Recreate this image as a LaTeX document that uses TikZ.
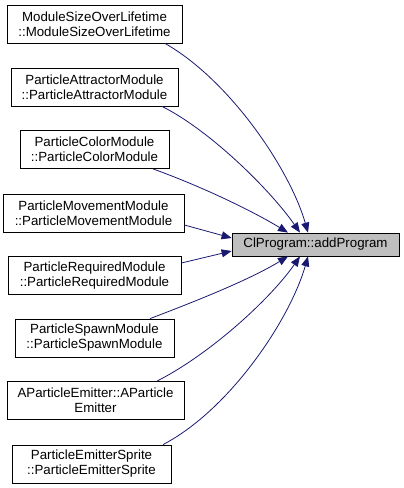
\documentclass[tikz,border=0pt]{standalone}
\usepackage{fontspec}
\setmainfont{Liberation Sans}
\usetikzlibrary{arrows.meta}
\definecolor{edgeblue}{HTML}{191970}
\definecolor{hlgray}{HTML}{BFBFBF}
\begin{document}
\begin{tikzpicture}[x=1pt,y=1pt,
  box/.style={draw=black,line width=0.8pt,fill=white,inner sep=0pt,align=center,
    minimum height=38pt,font=\fontsize{13.3}{15}\selectfont},
  hl/.style={box,fill=hlgray,minimum height=23pt},
  edge/.style={draw=edgeblue,line width=0.8pt,-{Triangle[length=10pt,width=8pt]}}]
\useasboundingbox (0,0) rectangle (404,-488);
\node[box,minimum width=175pt] (n1) at (94.5,-24) {ModuleSizeOverLifetime\\::ModuleSizeOverLifetime};
\node[box,minimum width=167pt] (n2) at (94.5,-87) {ParticleAttractorModule\\::ParticleAttractorModule};
\node[box,minimum width=149pt] (n3) at (94.5,-149.5) {ParticleColorModule\\::ParticleColorModule};
\node[box,minimum width=181pt] (n4) at (93.5,-213) {ParticleMovementModule\\::ParticleMovementModule};
\node[box,minimum width=173pt] (n5) at (94.5,-275.5) {ParticleRequiredModule\\::ParticleRequiredModule};
\node[box,minimum width=159pt] (n6) at (94.5,-338) {ParticleSpawnModule\\::ParticleSpawnModule};
\node[box,minimum width=177pt] (n7) at (95.5,-400.5) {AParticleEmitter::AParticle\\Emitter};
\node[box,minimum width=159pt] (n8) at (91.5,-464) {ParticleEmitterSprite\\::ParticleEmitterSprite};
\node[hl,minimum width=167pt] (t) at (315.5,-244.5) {ClProgram::addProgram};
\draw[edge] ([xshift=70.5pt]n1.south) .. controls +(65,-37) and +(-18,63) .. ([xshift=-7.5pt]t.north);
\draw[edge] ([xshift=67.5pt]n2.south) .. controls +(48,-24) and +(-30,43) .. ([xshift=-15.5pt]t.north);
\draw[edge] ([xshift=58.5pt]n3.south) .. controls +(47,-17) and +(-38,23) .. ([xshift=-27.5pt]t.north);
\draw[edge] ([yshift=-12pt]n4.east) -- ([yshift=6.5pt]t.west);
\draw[edge] ([yshift=12.5pt]n5.east) -- ([yshift=-6.5pt]t.west);
\draw[edge] ([xshift=55.5pt]n6.north) .. controls +(50,19) and +(-38,-23) .. ([xshift=-27.5pt]t.south);
\draw[edge] ([xshift=61.5pt]n7.north) .. controls +(53,27) and +(-30,-43) .. ([xshift=-15.5pt]t.south);
\draw[edge] ([xshift=71.5pt]n8.north) .. controls +(67,35) and +(-18,-63) .. ([xshift=-7.5pt]t.south);
\end{tikzpicture}
\end{document}
